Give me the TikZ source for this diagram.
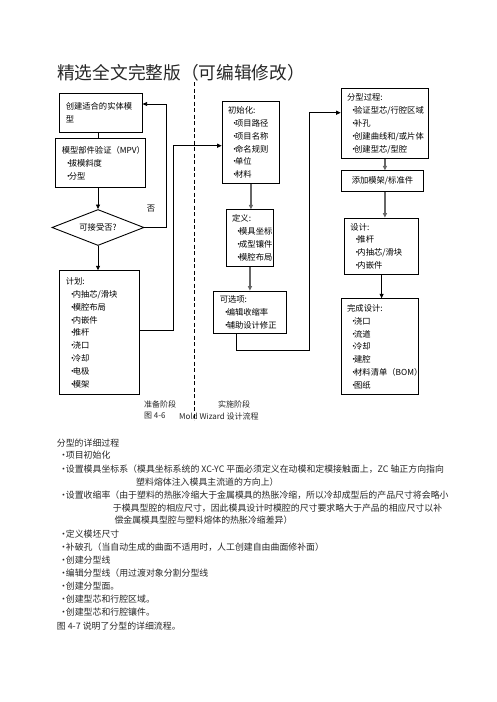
\documentclass[tikz,border=0pt]{standalone}
\usepackage{fontspec}
\setmainfont{Noto Sans CJK SC}
\usetikzlibrary{positioning, calc, arrows.meta, shapes.geometric}

\newcommand{\boxfont}{\fontsize{8.3}{12.9}\selectfont}
\newcommand{\bodyfont}{\fontsize{8.9}{13}\selectfont}
\newcommand{\itm}{\hspace*{2.5pt}\makebox[4.5pt][l]{•}}
\newcommand{\bul}{\makebox[6.7pt][l]{•}}

\begin{document}
\begin{tikzpicture}[x=1pt, y=-1pt,
    stepbox/.style={draw, line width=0.9pt, anchor=north west, align=left,
      inner xsep=6pt, inner ysep=0pt, font=\boxfont},
    choice/.style={draw, diamond, line width=0.9pt, aspect=2.5, minimum width=92pt,
      minimum height=36pt, inner sep=0pt, font=\boxfont},
    wire/.style={line width=0.8pt},
    link/.style={wire, -{Triangle[length=4.5pt,width=4pt]}},
    graylink/.style={link, line width=1.3pt, draw=black!60},
    txt/.style={anchor=west, inner sep=0pt, font=\bodyfont, text=black!85},
    tag/.style={txt, font=\fontsize{8}{10}\selectfont}]
  \useasboundingbox (0,0) rectangle (496,702);

  \node[anchor=west, inner sep=0pt, font=\fontsize{17.7}{20}\selectfont, text=black!85] (title) at (57,73) {精选全文完整版（可编辑修改）};

  \coordinate (divtop) at (194.3,82);
  \coordinate (divbot) at (194.3,420);
  \draw[dashed, dash pattern=on 4pt off 2.5pt, line width=0.7pt] (divtop) -- (divbot);

  \node[stepbox, text width=70.4pt, minimum height=38.4pt] (model) at (59.3,93.3) {创建适合的实体模\\型};
  \node[stepbox, text width=77.7pt, minimum height=48.4pt] (mpv) at (55.3,138.3) {模型部件验证（MPV）\\\itm 拔模斜度\\\itm 分型};
  \node[choice] (accept) at (98,227.5) {可接受否?};
  \node[stepbox, text width=67.4pt, minimum height=124pt] (plan) at (59.3,270.3) {计划:\\\itm 内抽芯/滑块\\\itm 模腔布局\\\itm 内嵌件\\\itm 推杆\\\itm 浇口\\\itm 冷却\\\itm 电极\\\itm 模架};
  \node[font=\boxfont, inner sep=0pt] (nolabel) at (151,209) {否};

  \node[stepbox, text width=45.6pt, minimum height=82.6pt] (init) at (221.7,100.7) {初始化:\\\itm 项目路径\\\itm 项目名称\\\itm 命名规则\\\itm 单位\\\itm 材料};
  \node[stepbox, text width=35.6pt, minimum height=56.7pt] (define) at (225.7,209.3) {定义:\\\itm 模具坐标\\\itm 成型镶件\\\itm 模腔布局};
  \node[stepbox, text width=60.4pt, minimum height=42.6pt] (option) at (213.3,290.7) {可选项:\\\itm 编辑收缩率\\\itm 辅助设计修正};

  \node[stepbox, text width=75.6pt, minimum height=70pt] (parting) at (340.7,88.3) {分型过程:\\\itm 验证型芯/行腔区域\\\itm 补孔\\\itm 创建曲线和/或片体\\\itm 创建型芯/型腔};
  \node[stepbox, align=center, text width=70.6pt, minimum height=20.7pt] (addmold) at (340.7,170.3) {添加模架/标准件};
  \node[stepbox, text width=62.3pt, minimum height=56.3pt] (design) at (344,217.7) {设计:\\\itm 推杆\\\itm 内抽芯/滑块\\\itm 内嵌件};
  \node[stepbox, text width=65.6pt, minimum height=96pt] (finish) at (340.7,298.3) {完成设计:\\\itm 浇口\\\itm 流道\\\itm 冷却\\\itm 建腔\\\itm 材料清单（BOM）\\\itm 图纸};

  \draw[wire] (model.south -| accept) -- (mpv.north -| accept);
  \draw[link] (mpv.south -| accept) -- (accept.north);
  \coordinate (backturn) at (166,104);
  \draw[link] (accept.east) -| (backturn) -- (backturn -| model.east);
  \draw[link] (accept.south) -- (plan.north -| accept);
  \coordinate (planturn) at (173.3,330.7);
  \coordinate (initturn) at (173.3,145.7);
  \draw[link] (planturn -| plan.east) -- (planturn) -- (initturn) -- (initturn -| init.west);
  \draw[graylink] (init.south) -- (init.south |- define.north);
  \draw[graylink] (define.south) -- (define.south |- option.north);
  \coordinate (optdown) at (236.7,350);
  \coordinate (optright) at (309.3,350);
  \coordinate (partturn) at (309.3,112.7);
  \draw[link] (optdown |- option.south) -- (optdown) -- (optright) -- (partturn) -- (partturn -| parting.west);
  \draw[graylink] (parting.south) -- (parting.south |- addmold.north);
  \draw[graylink] (addmold.south -| parting.south) -- (design.north -| parting.south);
  \draw[link] (design.south) -- (design.south |- finish.north);

  \node[tag] (prep) at (144,404.3) {准备阶段};
  \node[tag] (impl) at (218,404) {实施阶段};
  \node[tag] (fignum) at (144,416) {图 4-6};
  \node[tag] (figname) at (179,416) {Mold Wizard 设计流程};

  \node[txt] (parthead) at (56.7,443.3) {分型的详细过程};
  \node[txt] (step1) at (59,455.3) {\bul 项目初始化};
  \node[txt] (step2) at (59,469) {\bul 设置模具坐标系（模具坐标系统的 XC-YC 平面必须定义在动模和定模接触面上，ZC 轴正方向指向};
  \node[txt] (step2b) at (136,482.3) {塑料熔体注入模具主流道的方向上）};
  \node[txt] (step3) at (59,495) {\bul 设置收缩率（由于塑料的热胀冷缩大于金属模具的热胀冷缩，所以冷却成型后的产品尺寸将会略小};
  \node[txt] (step3b) at (112.7,508.3) {于模具型腔的相应尺寸，因此模具设计时模腔的尺寸要求略大于产品的相应尺寸以补};
  \node[txt] (step3c) at (114.3,520) {偿金属模具型腔与塑料熔体的热胀冷缩差异）};
  \node[txt] (step4) at (59,534) {\bul 定义模坯尺寸};
  \node[txt] (step5) at (59,546.7) {\bul 补破孔（当自动生成的曲面不适用时，人工创建自由曲面修补面）};
  \node[txt] (step6) at (59,560) {\bul 创建分型线};
  \node[txt] (step7) at (59,573.3) {\bul 编辑分型线（用过渡对象分割分型线};
  \node[txt] (step8) at (59,586) {\bul 创建分型面。};
  \node[txt] (step9) at (59,599) {\bul 创建型芯和行腔区域。};
  \node[txt] (step10) at (59,611.7) {\bul 创建型芯和行腔镶件。};
  \node[txt] (figref) at (56.7,625.7) {图 4-7 说明了分型的详细流程。};
\end{tikzpicture}
\end{document}
